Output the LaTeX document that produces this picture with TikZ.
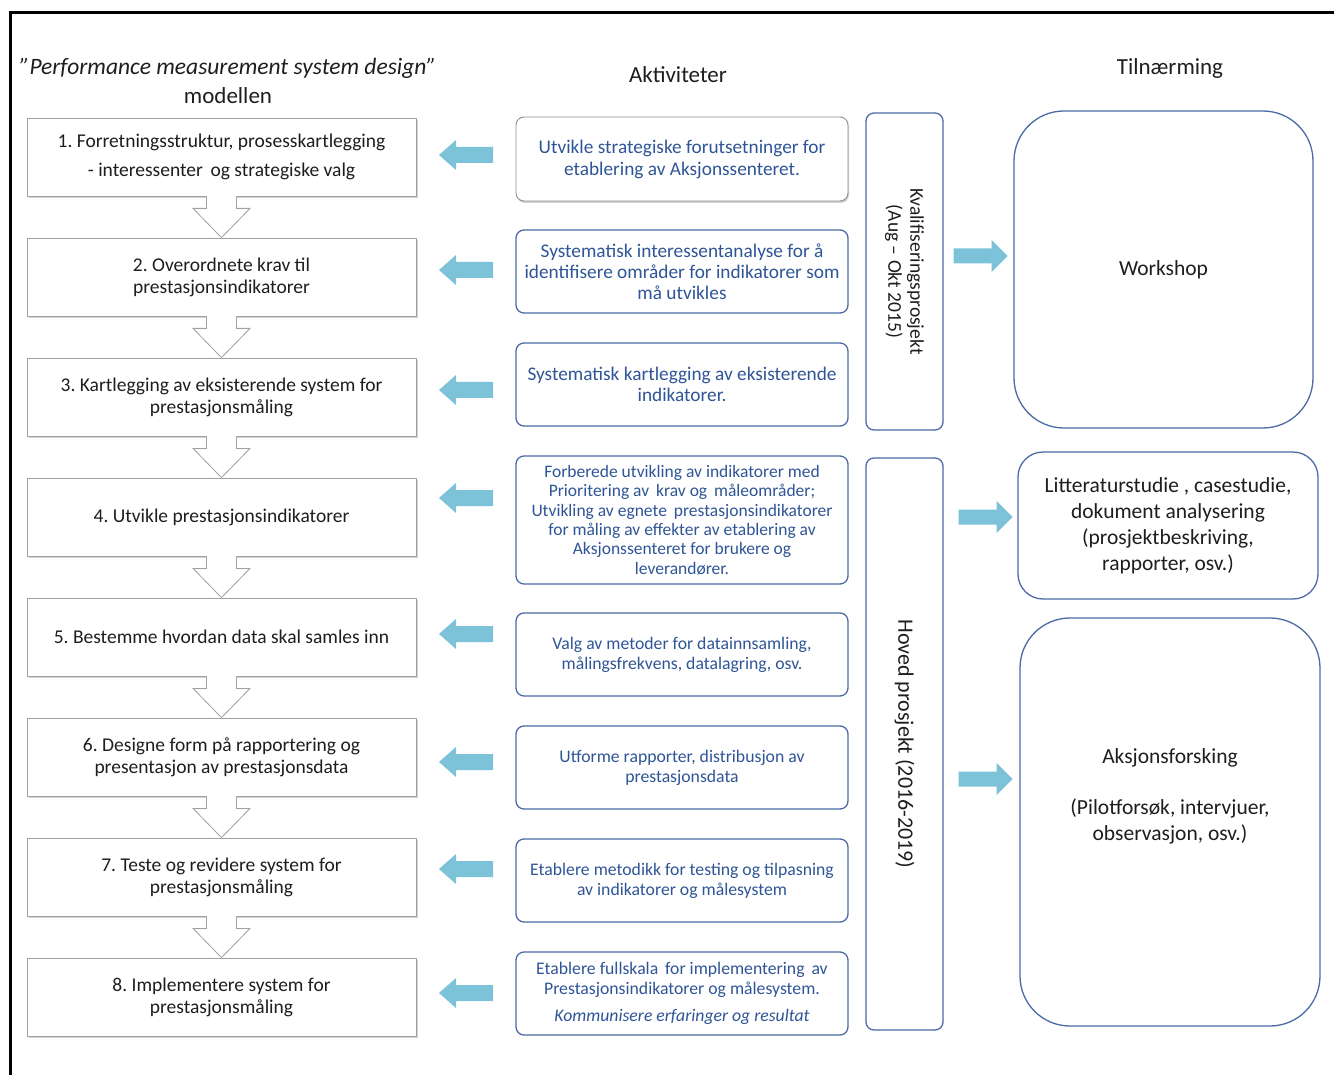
\documentclass[tikz,border=0pt]{standalone}
\usepackage{fontspec}
\setmainfont{Carlito}
\frenchspacing
\usetikzlibrary{shadows,calc}
\definecolor{bordblue}{RGB}{74,107,165}
\definecolor{txtblue}{RGB}{47,85,151}
\definecolor{arrblue}{RGB}{124,194,216}
\definecolor{boxgray}{RGB}{160,160,160}
\definecolor{txtdark}{RGB}{30,30,30}
\begin{document}
\begin{tikzpicture}[x=1pt,y=-1pt,
  leftbox/.style={draw=boxgray, fill=white, line width=0.8pt, minimum width=389pt, minimum height=78pt,
    align=center, text=txtdark, font=\fontsize{19.5}{22}\selectfont,
    drop shadow={shadow xshift=1.5pt, shadow yshift=-2pt, fill=black!35, opacity=0.5}},
  midbox/.style={draw=bordblue, fill=white, line width=1.3pt, rounded corners=8pt, minimum width=332pt,
    minimum height=83pt, align=center, text=txtblue, font=\fontsize{17.7}{20}\selectfont},
  midfirst/.style={midbox, draw=boxgray!90!black, line width=0.9pt,
    drop shadow={shadow xshift=1pt, shadow yshift=-2pt, fill=black!35, opacity=0.5}},
  vbox/.style={draw=bordblue, line width=1.3pt, rounded corners=8pt, minimum width=77pt},
  rbox/.style={draw=bordblue, line width=1.3pt, minimum width=300pt},
  hdr/.style={text=txtdark, font=\fontsize{23}{28}\selectfont, align=center},
  rtxt/.style={text=txtdark, font=\fontsize{21.5}{26}\selectfont, align=center},
  dnarrow/.style={draw=boxgray, line width=0.8pt},
  larr/.pic={\fill[arrblue] (-27,0) -- (-10,-15) -- (-10,-8) -- (27,-8) -- (27,8) -- (-10,8) -- (-10,15) -- cycle;},
  rarr/.pic={\fill[arrblue] (27,0) -- (11,-16) -- (11,-7.5) -- (-27,-7.5) -- (-27,7.5) -- (11,7.5) -- (11,16) -- cycle;}
]
\useasboundingbox (0,0) rectangle (1334,1075);
\fill[white] (0,0) rectangle (1334,1075);
\draw[line width=3pt] (10,1080) -- (10,12.5) -- (1340,12.5);

% headers
\node[hdr, font=\fontsize{23.5}{28}\selectfont\itshape] (h1) at (228,68) {{\char34}Performance measurement system design{\char34}};
\node[hdr] (h1b) at (228,96) {modellen};
\node[hdr] (h2) at (678,75) {Aktiviteter};
\node[hdr] (h3) at (1170,68) {Tilnærming};

% left boxes
\node[leftbox] (L1) at (221.5,157) {1. Forretningsstruktur, prosesskartlegging\\[7pt]- interessenter\, og strategiske valg};
\node[leftbox] (L2) at (221.5,277) {2. Overordnete krav til\\prestasjonsindikatorer};
\node[leftbox] (L3) at (221.5,397) {3. Kartlegging av eksisterende system for\\prestasjonsmåling};
\node[leftbox] (L4) at (221.5,517) {4. Utvikle prestasjonsindikatorer};
\node[leftbox] (L5) at (221.5,637) {5. Bestemme hvordan data skal samles inn};
\node[leftbox] (L6) at (221.5,757) {6. Designe form på rapportering og\\presentasjon av prestasjonsdata};
\node[leftbox] (L7) at (221.5,877) {7. Teste og revidere system for\\prestasjonsmåling};
\node[leftbox] (L8) at (221.5,997) {8. Implementere system for\\prestasjonsmåling};

% down block arrows
\foreach \a/\b in {L1/L2,L2/L3,L3/L4,L4/L5,L5/L6,L6/L7,L7/L8}{
  \fill[white] ($(\a.south)+(-15,-1)$) -- ($(\a.south)+(-15,12)$) -- ($(\a.south)+(-28.5,12)$) -- (\b.north)
     -- ($(\a.south)+(28.5,12)$) -- ($(\a.south)+(15,12)$) -- ($(\a.south)+(15,-1)$) -- cycle;
  \draw[dnarrow] ($(\a.south)+(-15,0)$) -- ($(\a.south)+(-15,12)$) -- ($(\a.south)+(-28.5,12)$) -- (\b.north)
     -- ($(\a.south)+(28.5,12)$) -- ($(\a.south)+(15,12)$) -- ($(\a.south)+(15,0)$);
}

% middle boxes
\node[midfirst, minimum height=84pt, font=\fontsize{19.3}{22}\selectfont] (M1) at (682,159) {Utvikle strategiske forutsetninger for\\etablering av Aksjonssenteret.};
\node[midbox, font=\fontsize{19.3}{21}\selectfont] (M2) at (682,271.5) {Systematisk interessentanalyse for å\\identifisere områder for indikatorer som\\må utvikles};
\node[midbox, font=\fontsize{19.3}{21}\selectfont] (M3) at (682,384.5) {Systematisk kartlegging av eksisterende\\indikatorer.};
\node[midbox, minimum height=128pt, font=\fontsize{17.5}{19.4}\selectfont] (M4) at (682,520) {Forberede utvikling av indikatorer med\\Prioritering av\, krav og\, måleområder;\\Utvikling av egnete\, prestasjonsindikatorer\\for måling av effekter av etablering av\\Aksjonssenteret for brukere og\\leverandører.};
\node[midbox] (M5) at (682,654.5) {Valg av metoder for datainnsamling,\\målingsfrekvens, datalagring, osv.};
\node[midbox] (M6) at (682,767.5) {Utforme rapporter, distribusjon av\\prestasjonsdata};
\node[midbox] (M7) at (682,880.5) {Etablere metodikk for testing og tilpasning\\av indikatorer og målesystem};
\node[midbox] (M8) at (682,993.5) {Etablere fullskala\, for implementering\, av\\Prestasjonsindikatorer og målesystem.\\[7pt]\textit{Kommunisere erfaringer og resultat}};

% left arrows (activities -> model)
\pic at (466,155) {larr};
\pic at (466,270) {larr};
\pic at (466,390) {larr};
\pic at (466,498) {larr};
\pic at (466,634) {larr};
\pic at (466,762) {larr};
\pic at (466,869) {larr};
\pic at (466,993) {larr};

% vertical project boxes
\node[vbox, minimum height=317pt] (K) at (904.5,271.5) {};
\node[rotate=-90, align=center, text=txtdark, font=\fontsize{19.5}{22}\selectfont] (Kt) at (K.center) {Kvalifiseringsprosjekt\\(Aug – Okt 2015)};
\node[vbox, minimum height=572pt] (H) at (904.5,744) {};
\node[rotate=-90, text=txtdark, font=\fontsize{22}{26}\selectfont] (Ht) at (H.center) {Hoved prosjekt (2016-2019)};

% right arrows
\pic at (980.5,256) {rarr};
\pic at (985.5,517) {rarr};
\pic at (985.5,779) {rarr};

% right boxes
\node[rbox, minimum width=299pt, minimum height=317pt, rounded corners=50pt] (W) at (1163.5,269.5) {};
\node[rtxt] (Wt) at (W.center) {Workshop};
\node[rbox, minimum height=147pt, rounded corners=25pt] (Lit) at (1168,525.5) {};
\node[rtxt] (Litt) at (Lit.center) {Litteraturstudie , casestudie,\\dokument analysering\\(prosjektbeskriving,\\rapporter, osv.)};
\node[rbox, minimum height=408pt, rounded corners=50pt] (A) at (1170,822) {};
\node[rtxt] (At) at (1170,796) {Aksjonsforsking\\[25pt](Pilotforsøk, intervjuer,\\observasjon, osv.)};
\end{tikzpicture}
\end{document}
